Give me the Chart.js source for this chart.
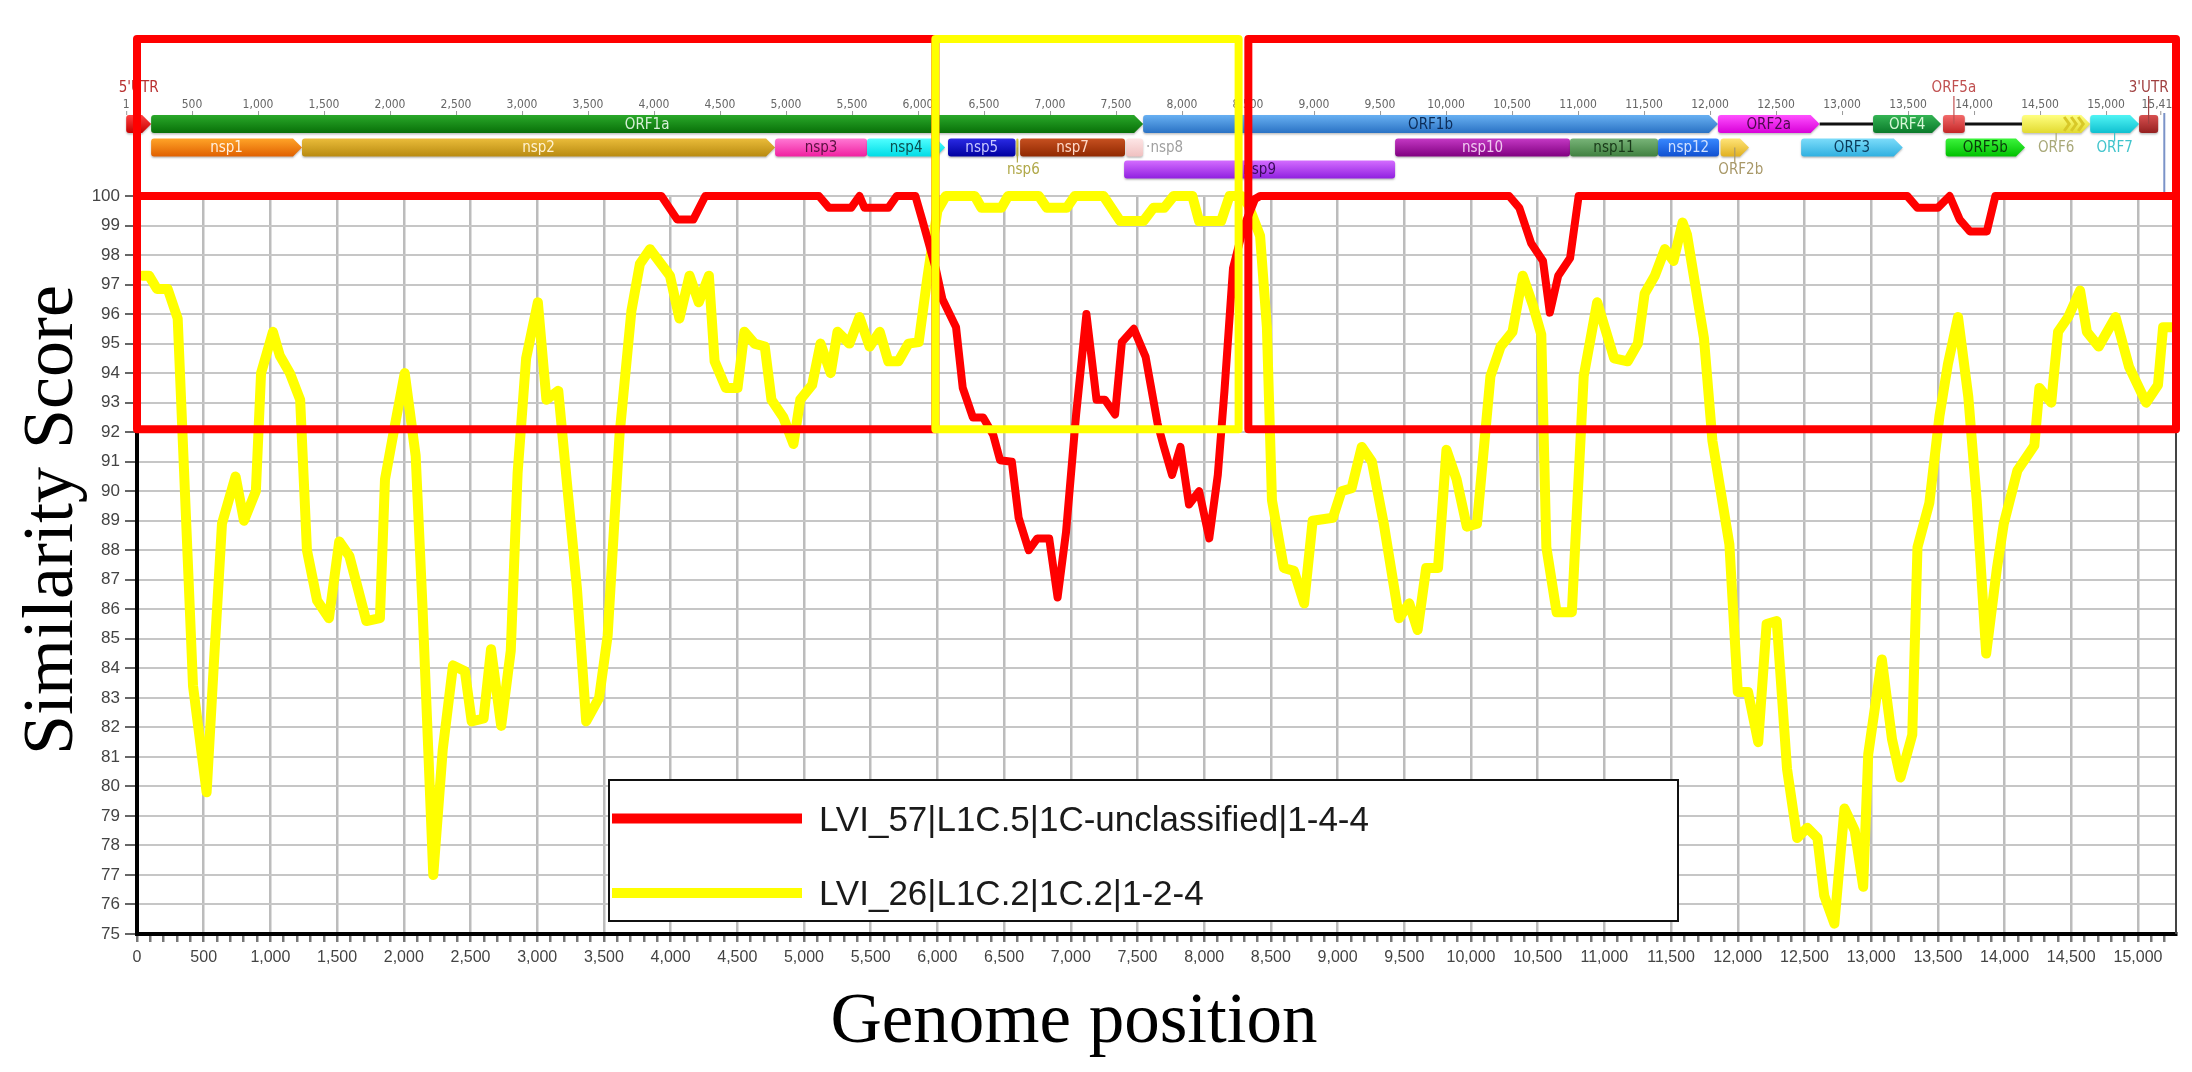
<!DOCTYPE html>
<html>
<head>
<meta charset="utf-8">
<script src="https://cdn.jsdelivr.net/npm/chart.js@4.4.1/dist/chart.umd.min.js"></script>
<style>
html,body{margin:0;padding:0;background:#fff;}
#wrap{width:2192px;height:1072px;}
</style>
</head>
<body>
<div id="wrap"><canvas id="c" width="2192" height="1072"></canvas></div>
<script>
// ---------------- DATA ----------------
const seriesLabels = ['LVI_57|L1C.5|1C-unclassified|1-4-4', 'LVI_26|L1C.2|1C.2|1-2-4'];

const redPos = [0,3931,4050,4170,4260,5112,5188,5353,5416,5454,5632,5695,5835,5886,5990,6038,6140,6190,6266,6343,6419,6470,6558,6609,6685,6749,6838,6901,6964,7040,7117,7193,7256,7332,7383,7472,7561,7650,7695,7759,7822,7886,7962,8038,8102,8152,8216,8292,8381,8419,10286,10362,10451,10540,10591,10654,10743,10807,13270,13347,13499,13588,13664,13740,13867,13931,15285];
const redScore = [100,100,99.2,99.2,100,100,99.6,99.6,100,99.6,99.6,100,100,99.2,97.5,96.5,95.55,93.5,92.5,92.5,91.9,91.05,91.0,89.1,88.0,88.4,88.4,86.4,88.6,92.6,96.0,93.1,93.1,92.6,95.05,95.5,94.55,92.3,91.55,90.55,91.5,89.55,90.0,88.4,90.55,93.4,97.55,98.9,99.9,100,100,99.6,98.4,97.8,96.05,97.3,97.9,100,100,99.6,99.6,100,99.2,98.8,98.8,100,100];

const yellowPos = [40,90,150,230,305,420,522,573,637,739,802,891,930,1019,1070,1146,1223,1274,1350,1439,1516,1592,1656,1719,1821,1859,1936,2007,2089,2140,2221,2292,2369,2458,2509,2598,2654,2730,2802,2853,2917,3005,3069,3158,3235,3298,3367,3464,3528,3617,3706,3770,3846,3995,4066,4142,4211,4287,4330,4414,4502,4553,4629,4706,4756,4845,4921,4972,5061,5124,5200,5251,5340,5416,5492,5568,5632,5708,5784,5860,5924,6000,6063,6280,6330,6480,6530,6760,6820,6970,7030,7245,7370,7545,7620,7700,7771,7911,7962,8127,8190,8280,8330,8419,8470,8508,8597,8673,8749,8813,8965,9029,9105,9181,9257,9346,9461,9537,9600,9664,9753,9816,9892,9969,10045,10146,10222,10311,10388,10464,10527,10565,10642,10756,10845,10946,11073,11175,11251,11302,11378,11454,11518,11586,11619,11746,11810,11937,12000,12077,12153,12216,12292,12369,12445,12521,12597,12648,12724,12800,12877,12940,12978,13080,13156,13220,13308,13347,13436,13512,13575,13651,13728,13791,13862,13943,13994,14096,14223,14261,14350,14401,14477,14566,14617,14706,14832,14934,15061,15150,15188,15264];
const yellowScore = [97.3,97.3,96.85,96.85,95.85,83.4,79.8,83.9,88.9,90.5,89.0,90.0,94.0,95.4,94.6,94.0,93.1,88.0,86.3,85.7,88.3,87.8,86.7,85.6,85.7,90.4,92.3,94.0,91.2,86.1,77.0,81.25,84.1,83.9,82.2,82.3,84.65,82.05,84.6,90.6,94.5,96.4,93.1,93.4,89.7,86.7,82.2,83.0,85.1,91.9,96.1,97.7,98.2,97.3,95.85,97.3,96.4,97.3,94.4,93.5,93.5,95.4,95.0,94.9,93.1,92.5,91.6,93.1,93.6,95.0,94.0,95.4,95.0,95.9,94.9,95.4,94.4,94.4,95.0,95.05,97.2,99.5,100,100,99.6,99.6,100,100,99.6,99.6,100,100,99.15,99.15,99.6,99.6,100,100,99.15,99.15,100,100,99.7,98.65,95.55,89.7,87.4,87.3,86.2,89.0,89.1,90.0,90.1,91.5,91.0,88.9,85.7,86.2,85.3,87.4,87.4,91.4,90.4,88.8,88.9,93.9,94.9,95.4,97.3,96.3,95.3,88.1,85.9,85.9,93.9,96.4,94.5,94.4,95.0,96.7,97.3,98.2,97.8,99.1,98.7,95.2,91.7,88.2,83.2,83.2,81.5,85.5,85.6,80.6,78.25,78.6,78.25,76.3,75.35,79.25,78.5,76.6,81.1,84.3,81.6,80.3,81.75,88.1,89.6,92.55,94.3,95.9,93.2,89.7,84.5,87.4,88.9,90.7,91.55,93.5,93.0,95.4,95.9,96.8,95.4,94.9,95.9,94.2,93.0,93.6,95.55,95.55];

// genome annotation (genome coordinates)
const geneNames = ["5'UTR",'ORF1a','ORF1b','ORF2a','ORF4','ORF5a','ORF6','ORF7',"3'UTR",'nsp1','nsp2','nsp3','nsp4','nsp5','nsp6','nsp7','nsp8','nsp9','nsp10','nsp11','nsp12','ORF2b','ORF3','ORF5b'];
const geneStart = [1,190,7705,12060,13235,13765,14364,14880,15250,190,1333,4917,5614,6227,6745,6773,7576,7561,9614,10939,11606,12080,12690,13785];
const geneEnd   = [190,7705,12060,12830,13750,13930,14880,15250,15395,1333,4917,5614,6205,6738,6760,7568,7705,9614,10939,11606,12068,12295,13460,14386];
const geneTrack = [0,0,0,0,0,0,0,0,0,1,1,1,1,1,1,1,1,2,1,1,1,1,1,1];
const spacerStart = [12830,13930];
const spacerEnd = [13235,14364];
const rulerTicks = [1,500,1000,1500,2000,2500,3000,3500,4000,4500,5000,5500,6000,6500,7000,7500,8000,8500,9000,9500,10000,10500,11000,11500,12000,12500,13000,13500,14000,14500,15000,15411];
const genomeEnd = 15411;

// highlighted regions (genome position range, lower similarity bound)
const boxStart = [0,5985,8331];
const boxEnd = [5985,8258,15285];
const boxFloor = [92.1,92.1,92.1];

// ---------------- STYLES ----------------
const seriesColors = ['#ff0000','#ffff00'];
const seriesWidths = [8,10];
const boxColors = ['#ff0000','#ffff00','#ff0000'];
const geneStyle = {
  "5'UTR": {c:['#ff4040','#c80000'], arrow:true, lab:'above', tc:'#b83030'},
  'ORF1a': {c:['#2aa82a','#087008'], arrow:true, lab:'in', tc:'#d8f0d8'},
  'ORF1b': {c:['#68b0f2','#2a72c4'], arrow:true, lab:'in', tc:'#0c2c58'},
  'ORF2a': {c:['#ff50ff','#d800d8'], arrow:true, lab:'in', tc:'#4a0a4a'},
  'ORF4':  {c:['#34b454','#0a7a2a'], arrow:true, lab:'in', tc:'#d8f8d8'},
  'ORF5a': {c:['#f26a6a','#c42626'], arrow:false, lab:'above', tc:'#c05050'},
  'ORF6':  {c:['#ffff80','#e2da30'], arrow:true, lab:'under', tc:'#a8a878', chev:true},
  'ORF7':  {c:['#50f4f4','#10c0d0'], arrow:true, lab:'under', tc:'#40c4cc'},
  "3'UTR": {c:['#d85050','#942020'], arrow:false, lab:'above', tc:'#a04040'},
  'nsp1':  {c:['#ffa428','#e06000'], arrow:true, lab:'in', tc:'#fff0e0'},
  'nsp2':  {c:['#eabc3a','#b88a10'], arrow:true, lab:'in', tc:'#fff2d0'},
  'nsp3':  {c:['#ff78d4','#f020a0'], arrow:false, lab:'in', tc:'#5a1040'},
  'nsp4':  {c:['#50ffff','#00dce6'], arrow:true, lab:'in', tc:'#0a5050'},
  'nsp5':  {c:['#2a2ae4','#0000a0'], arrow:false, lab:'in', tc:'#c8c8ff'},
  'nsp6':  {c:['#d8c840','#b8a820'], arrow:false, lab:'below', tc:'#b0a848'},
  'nsp7':  {c:['#c65020','#902800'], arrow:false, lab:'in', tc:'#ffd8c8'},
  'nsp8':  {c:['#fde6e6','#f0c0c0'], arrow:false, lab:'right', tc:'#a0a0a0'},
  'nsp9':  {c:['#d46cff','#9020e0'], arrow:false, lab:'in', tc:'#3a0a5a'},
  'nsp10': {c:['#c438c4','#800080'], arrow:false, lab:'in', tc:'#f0c8f0'},
  'nsp11': {c:['#78b478','#408040'], arrow:false, lab:'in', tc:'#183818'},
  'nsp12': {c:['#3888ff','#1050d0'], arrow:false, lab:'in', tc:'#d0e0ff'},
  'ORF2b': {c:['#ffe478','#e0b020'], arrow:true, lab:'below', tc:'#a89868'},
  'ORF3':  {c:['#7cdcfa','#30b0e0'], arrow:true, lab:'in', tc:'#0a3a5a'},
  'ORF5b': {c:['#3cf43c','#00c000'], arrow:true, lab:'in', tc:'#0a3a0a'}
};
const NARROW = "'Liberation Sans Narrow','DejaVu Sans Condensed','Liberation Sans',sans-serif";
const SERIF = "'Liberation Serif','Times New Roman',serif";
const SANS = "'Liberation Sans',Arial,sans-serif";

// ---------------- PLUGINS ----------------
function genePath(ctx, x1, x2, yc, h, arrow) {
  const tip = arrow ? Math.min(9, (x2 - x1) * 0.5) : 0;
  const r = Math.min(3, (x2 - x1) / 2);
  const t = yc - h / 2, b = yc + h / 2;
  ctx.beginPath();
  ctx.moveTo(x1 + r, t);
  if (arrow) {
    ctx.lineTo(x2 - tip, t); ctx.lineTo(x2, yc); ctx.lineTo(x2 - tip, b);
  } else {
    ctx.arcTo(x2, t, x2, b, r); ctx.arcTo(x2, b, x1, b, r);
  }
  ctx.lineTo(x1 + r, b);
  ctx.arcTo(x1, b, x1, t, r);
  ctx.arcTo(x1, t, x2, t, r);
  ctx.closePath();
}

const annotationPlugin = {
  id: 'genomeMap',
  afterDraw(chart) {
    const ctx = chart.ctx, g = chart.scales.g, top = chart.chartArea.top;
    const rowY = [top - 72, top - 48.5, top - 26.5];
    const H = 18;
    ctx.save();
    // ruler
    ctx.font = '12px ' + NARROW;
    ctx.fillStyle = '#666';
    ctx.strokeStyle = '#999';
    ctx.lineWidth = 1;
    ctx.textAlign = 'center';
    ctx.textBaseline = 'middle';
    rulerTicks.forEach(v => {
      const px = g.getPixelForValue(v);
      ctx.fillText(v.toLocaleString('en-US'), px, top - 91);
      ctx.beginPath(); ctx.moveTo(px + 0.5, top - 85); ctx.lineTo(px + 0.5, top - 81); ctx.stroke();
    });
    // spacer lines
    ctx.strokeStyle = '#111'; ctx.lineWidth = 3;
    spacerStart.forEach((s, i) => {
      ctx.beginPath();
      ctx.moveTo(g.getPixelForValue(s), rowY[0]);
      ctx.lineTo(g.getPixelForValue(spacerEnd[i]), rowY[0]);
      ctx.stroke();
    });
    // genes
    geneNames.forEach((name, i) => {
      const st = geneStyle[name];
      const x1 = g.getPixelForValue(geneStart[i]);
      let x2 = g.getPixelForValue(geneEnd[i]);
      if (x2 - x1 < 2) x2 = x1 + 2;
      const yc = rowY[geneTrack[i]];
      const grad = ctx.createLinearGradient(0, yc - H / 2, 0, yc + H / 2);
      grad.addColorStop(0, st.c[0]); grad.addColorStop(1, st.c[1]);
      ctx.save();
      ctx.shadowColor = 'rgba(0,0,0,0.25)'; ctx.shadowOffsetY = 1.5; ctx.shadowBlur = 2;
      genePath(ctx, x1, x2, yc, H, st.arrow);
      ctx.fillStyle = grad; ctx.fill();
      ctx.restore();
      if (st.chev) {
        ctx.strokeStyle = '#d8c828'; ctx.lineWidth = 3;
        for (let k = 0; k < 3; k++) {
          const cx = x2 - 26 + k * 7;
          ctx.beginPath(); ctx.moveTo(cx, yc - 7); ctx.lineTo(cx + 5, yc); ctx.lineTo(cx, yc + 7); ctx.stroke();
        }
      }
      const mid = (x1 + x2) / 2;
      ctx.font = '15px ' + NARROW;
      ctx.textAlign = 'center'; ctx.textBaseline = 'middle';
      ctx.fillStyle = st.tc;
      ctx.strokeStyle = st.tc; ctx.lineWidth = 1.2;
      if (st.lab === 'in') {
        ctx.fillText(name, mid, yc + 1);
      } else if (st.lab === 'above') {
        ctx.fillText(name, mid, top - 108);
        ctx.beginPath(); ctx.moveTo(mid, top - 100); ctx.lineTo(mid, yc); ctx.stroke();
      } else if (st.lab === 'under') {
        ctx.beginPath(); ctx.moveTo(mid, yc + H / 2); ctx.lineTo(mid, rowY[1] - 6); ctx.stroke();
        ctx.fillText(name, mid, rowY[1] + 1);
      } else if (st.lab === 'below') {
        ctx.beginPath(); ctx.moveTo(mid, yc); ctx.lineTo(mid, yc + H / 2 + 6); ctx.stroke();
        ctx.fillText(name, mid + 6, rowY[2] + 1);
      } else if (st.lab === 'right') {
        ctx.textAlign = 'left';
        ctx.fillText('\u00b7' + name, x2 + 3, yc + 1);
      }
    });
    // genome end marker
    const ex = g.getPixelForValue(genomeEnd) + 4;
    ctx.strokeStyle = '#7b93c8'; ctx.lineWidth = 2;
    ctx.beginPath(); ctx.moveTo(ex, top - 83); ctx.lineTo(ex, top - 4); ctx.stroke();
    ctx.restore();
  }
};

const overlayPlugin = {
  id: 'overlay',
  afterDraw(chart) {
    const ctx = chart.ctx, x = chart.scales.x, y = chart.scales.y, a = chart.chartArea;
    ctx.save();
    // right frame line
    ctx.strokeStyle = '#444'; ctx.lineWidth = 2;
    ctx.beginPath(); ctx.moveTo(a.right, a.top); ctx.lineTo(a.right, a.bottom); ctx.stroke();
    // highlight boxes
    ctx.lineWidth = 8; ctx.lineJoin = 'round';
    boxStart.forEach((s, i) => {
      const x1 = x.getPixelForValue(s), x2 = x.getPixelForValue(boxEnd[i]);
      const yb = y.getPixelForValue(boxFloor[i]);
      ctx.strokeStyle = boxColors[i];
      ctx.strokeRect(x1, a.top - 157, x2 - x1, yb - (a.top - 157));
    });
    // legend
    const lx = 609, ly = 780, lw = 1069, lh = 141;
    ctx.fillStyle = '#fff'; ctx.fillRect(lx, ly, lw, lh);
    ctx.strokeStyle = '#111'; ctx.lineWidth = 2; ctx.lineJoin = 'miter';
    ctx.strokeRect(lx, ly, lw, lh);
    const rows = [818.5, 893];
    chart.data.datasets.forEach((ds, i) => {
      ctx.strokeStyle = ds.borderColor; ctx.lineWidth = 10; ctx.lineCap = 'butt';
      ctx.beginPath(); ctx.moveTo(lx + 3, rows[i]); ctx.lineTo(802, rows[i]); ctx.stroke();
      ctx.fillStyle = '#1a1a1a'; ctx.font = '35px ' + SANS;
      ctx.textAlign = 'left'; ctx.textBaseline = 'alphabetic';
      ctx.fillText(ds.label, 819, rows[i] + 12);
    });
    // axis titles
    ctx.fillStyle = '#000';
    ctx.font = '72px ' + SERIF;
    ctx.textAlign = 'center'; ctx.textBaseline = 'alphabetic';
    ctx.save();
    ctx.translate(72, 520); ctx.rotate(-Math.PI / 2);
    ctx.fillText('Similarity Score', 0, 0);
    ctx.restore();
    ctx.font = '71px ' + SERIF;
    ctx.fillText('Genome position', 1074, 1042);
    ctx.restore();
  }
};

// ---------------- CHART ----------------
const lineStyle = {pointRadius: 0, tension: 0, borderJoinStyle: 'round', borderCapStyle: 'round', clip: 14, fill: false};

new Chart(document.getElementById('c'), {
  type: 'line',
  data: {
    datasets: [
      Object.assign({label: seriesLabels[0], borderColor: seriesColors[0], borderWidth: seriesWidths[0], data: redPos.map((p, i) => ({x: p, y: redScore[i]}))}, lineStyle),
      Object.assign({label: seriesLabels[1], borderColor: seriesColors[1], borderWidth: seriesWidths[1], data: yellowPos.map((p, i) => ({x: p, y: yellowScore[i]}))}, lineStyle)
    ]
  },
  options: {
    responsive: false,
    animation: false,
    devicePixelRatio: 1,
    layout: {padding: {left: 0, top: 196, right: 16, bottom: 0}},
    plugins: {legend: {display: false}, tooltip: {enabled: false}, title: {display: false}},
    scales: {
      x: {
        type: 'linear', min: 0, max: 15285,
        afterFit(s) { s.height = 138; },
        ticks: {
          stepSize: 100, autoSkip: false, maxRotation: 0, minRotation: 0, includeBounds: false,
          callback: v => (v % 500 === 0 ? v.toLocaleString('en-US') : ''),
          font: {family: SANS, size: 16}, color: '#444', padding: 6
        },
        grid: {
          color: c => (c.tick && c.tick.value % 500 === 0 ? '#bcbcbc' : 'rgba(0,0,0,0)'),
          lineWidth: 2.5, tickColor: '#777', tickLength: 8
        },
        border: {color: '#000', width: 4}
      },
      y: {
        type: 'linear', min: 75, max: 100,
        afterFit(s) { s.width = 137; },
        ticks: {stepSize: 1, autoSkip: false, font: {family: SANS, size: 17}, color: '#444', padding: 5},
        grid: {color: '#c6c6c6', lineWidth: 2, tickColor: '#666', tickLength: 12},
        border: {color: '#000', width: 4}
      },
      g: {type: 'linear', position: 'top', display: false, min: 83, max: 15530}
    }
  },
  plugins: [annotationPlugin, overlayPlugin]
});
</script>
</body>
</html>
